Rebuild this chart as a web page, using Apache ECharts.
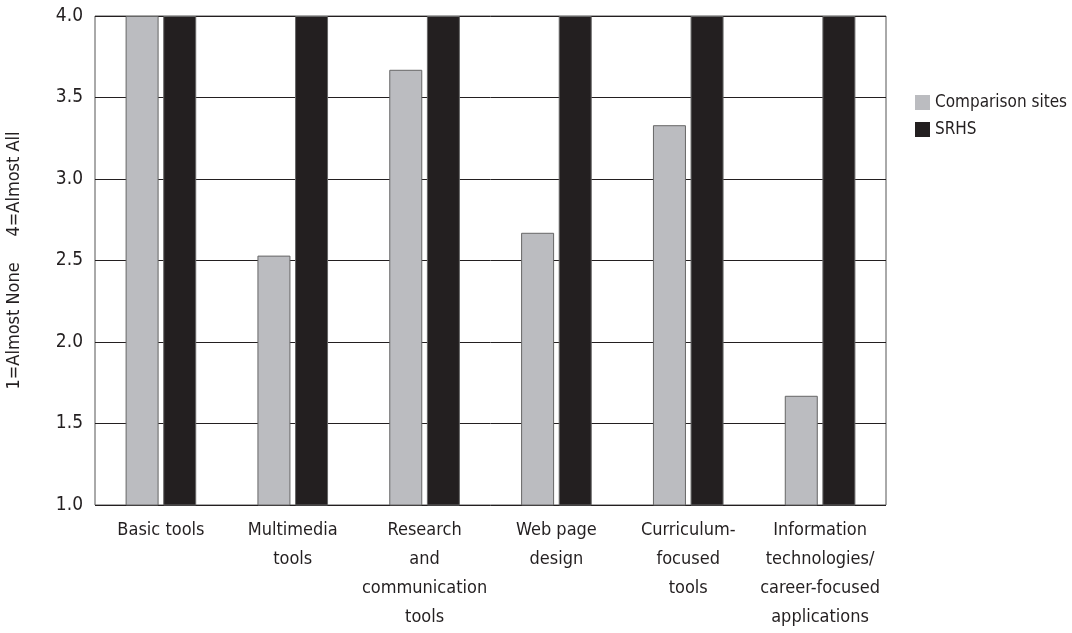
<!DOCTYPE html>
<html lang="en">
<head>
    <meta charset="UTF-8">
    <title>Technology use: Comparison sites vs SRHS</title>
    <script src="https://cdn.jsdelivr.net/npm/echarts@6/dist/echarts.min.js"></script>
    <style>
        html, body { margin: 0; padding: 0; background: #fff; }
        #chart { width: 1072px; height: 633px; }
    </style>
</head>
<body>
<div id="chart"></div>
<script>
    // categories and values
    const categories = [
        'Basic tools',
        'Multimedia\ntools',
        'Research\nand\ncommunication\ntools',
        'Web page\ndesign',
        'Curriculum-\nfocused\ntools',
        'Information\ntechnologies/\ncareer-focused\napplications'
    ];
    const comparisonSites = [4.0, 2.53, 3.67, 2.67, 3.33, 1.67];
    const srhs = [4.0, 4.0, 4.0, 4.0, 4.0, 4.0];
    const yTicks = [1.0, 1.5, 2.0, 2.5, 3.0, 3.5, 4.0];

    const font = '"Liberation Sans Narrow", "DejaVu Sans Condensed", "Roboto", sans-serif';
    const ink = '#231f20';

    const chart = echarts.init(document.getElementById('chart'));
    chart.setOption({
        animation: false,
        textStyle: { fontFamily: font, color: ink },
        grid: {
            left: 95, right: 186, top: 16, bottom: 128,
            containLabel: false, outerBoundsMode: 'none',
            show: true, borderColor: '#555', borderWidth: 1
        },
        legend: {
            orient: 'vertical',
            left: 910, top: 89,
            itemWidth: 15, itemHeight: 15, itemGap: 10,
            icon: 'rect',
            itemStyle: { borderWidth: 0 },
            textStyle: { fontFamily: font, fontSize: 17, color: ink },
            data: ['Comparison sites', 'SRHS']
        },
        xAxis: {
            type: 'category',
            data: categories,
            axisLine: { show: false },
            axisTick: { show: false },
            axisLabel: {
                interval: 0, margin: 11,
                fontFamily: font, fontSize: 18, color: ink,
                lineHeight: 29, verticalAlign: 'top'
            }
        },
        yAxis: {
            type: 'value',
            min: yTicks[0], max: yTicks[yTicks.length - 1], interval: 0.5,
            name: '1=Almost None     4=Almost All',
            nameLocation: 'middle', nameGap: 72, nameRotate: 90,
            nameTextStyle: { fontFamily: font, fontSize: 18, color: ink },
            axisLine: { show: false },
            axisTick: { show: false },
            axisLabel: {
                margin: 12, fontFamily: font, fontSize: 19, color: ink,
                formatter: v => v.toFixed(1)
            },
            splitLine: { lineStyle: { color: ink, width: 1 } }
        },
        series: [
            {
                name: 'Comparison sites', type: 'bar',
                data: comparisonSites,
                barWidth: 33, barGap: '14%',
                itemStyle: { color: '#bbbcc0', borderColor: '#666', borderWidth: 1 }
            },
            {
                name: 'SRHS', type: 'bar',
                data: srhs,
                barWidth: 33,
                itemStyle: { color: ink, borderColor: '#666', borderWidth: 1 }
            }
        ]
    });
</script>
</body>
</html>
